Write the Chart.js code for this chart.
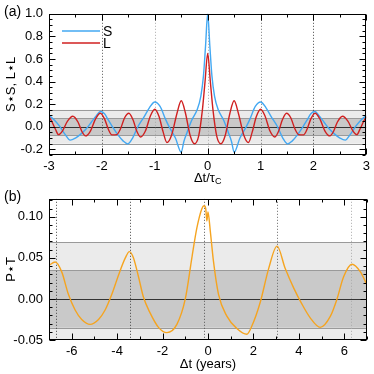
<!DOCTYPE html>
<html lang="en">
<head>
<meta charset="UTF-8">
<title>Correlation panels</title>
<script src="https://cdn.jsdelivr.net/npm/chart.js"></script>
<style>
  body { margin: 0; background: #fff; }
  .panel { position: absolute; left: 0; }
</style>
</head>
<body>
<div class="panel" style="top:0"><canvas id="chartA" width="374" height="185"></canvas></div>
<div class="panel" style="top:185px"><canvas id="chartB" width="374" height="189"></canvas></div>

<script>
// (a) auto-correlation of S and L vs lag in units of tau_c
const lagS = [-3.0, -2.9, -2.8, -2.7, -2.6, -2.5, -2.4, -2.3, -2.2, -2.1, -2.03, -1.95, -1.88, -1.8, -1.7, -1.6, -1.51,
              -1.42, -1.32, -1.2, -1.1, -1.0, -0.9, -0.8, -0.74, -0.61, -0.5, -0.45, -0.39, -0.3, -0.2, -0.13, -0.08, -0.04, 0,
              0.04, 0.08, 0.13, 0.2, 0.3, 0.39, 0.45, 0.5, 0.61, 0.74, 0.8, 0.9, 1.0, 1.1, 1.2, 1.32, 1.42,
              1.51, 1.6, 1.7, 1.8, 1.88, 1.95, 2.03, 2.1, 2.2, 2.3, 2.4, 2.5, 2.6, 2.7, 2.8, 2.9, 3.0];
const valS = [0.10, 0.06, 0.005, -0.065, -0.118, -0.10, -0.065, -0.02, 0.04, 0.10, 0.135, 0.115, 0.06, 0.0, -0.07, -0.125, -0.152,
              -0.10, 0.0, 0.09, 0.17, 0.219, 0.18, 0.07, 0.01, -0.10, -0.225, -0.13, -0.05, 0.06, 0.15, 0.27, 0.45, 0.72, 1.0,
              0.72, 0.45, 0.27, 0.15, 0.06, -0.05, -0.13, -0.225, -0.10, 0.01, 0.07, 0.18, 0.219, 0.17, 0.09, 0.0, -0.10,
              -0.152, -0.125, -0.07, 0.0, 0.06, 0.115, 0.135, 0.10, 0.04, -0.02, -0.065, -0.10, -0.118, -0.065, 0.005, 0.06, 0.10];

const lagL = [-3.0, -2.95, -2.88, -2.82, -2.75, -2.65, -2.55, -2.45, -2.38, -2.31, -2.22, -2.12, -2.03, -1.95, -1.88, -1.81,
              -1.72, -1.65, -1.57, -1.49, -1.41, -1.34, -1.27, -1.18, -1.08, -1.0, -0.92, -0.84, -0.77, -0.68, -0.58, -0.5,
              -0.42, -0.33, -0.25, -0.17, -0.1, -0.05, 0,
              0.05, 0.1, 0.17, 0.25, 0.33, 0.42, 0.5, 0.58, 0.68, 0.77, 0.84, 0.92, 1.0, 1.08, 1.18, 1.27, 1.34, 1.41,
              1.49, 1.57, 1.65, 1.72, 1.81, 1.88, 1.95, 2.03, 2.12, 2.22, 2.31, 2.38, 2.45, 2.55, 2.65, 2.75, 2.82, 2.88, 2.95, 3.0];
const valL = [0.09, 0.05, -0.02, -0.07, -0.04, 0.05, 0.093, 0.04, -0.04, -0.081, -0.04, 0.07, 0.12, 0.07, -0.02, -0.072,
              -0.07, -0.02, 0.08, 0.12, 0.06, -0.04, -0.09, -0.04, 0.10, 0.155, 0.09, -0.05, -0.14, -0.07, 0.12, 0.23,
              0.12, -0.08, -0.15, -0.08, 0.15, 0.40, 0.65,
              0.40, 0.15, -0.08, -0.15, -0.08, 0.12, 0.23, 0.12, -0.07, -0.14, -0.05, 0.09, 0.155, 0.10, -0.04, -0.09, -0.04, 0.06,
              0.12, 0.08, -0.02, -0.07, -0.072, -0.02, 0.07, 0.12, 0.07, -0.04, -0.081, -0.04, 0.04, 0.093, 0.05, -0.04, -0.07, -0.02, 0.05, 0.09];

// (b) cross-correlation P*T vs lag in years
const lagB = [-7.0, -6.73, -6.44, -6.15, -5.85, -5.56, -5.19, -4.82, -4.53, -4.23, -3.94, -3.64, -3.46, -3.28, -3.06, -2.84,
              -2.55, -2.18, -1.81, -1.37, -1.0, -0.7, -0.49, -0.27, -0.17, -0.1, -0.05, 0.0, 0.1, 0.24, 0.46, 0.83, 1.27,
              1.71, 1.93, 2.3, 2.67, 3.04, 3.4, 3.77, 4.13, 4.5, 4.94, 5.39, 5.68, 5.97, 6.34, 6.71, 7.0];
const valPT = [0.041, 0.045, 0.033, 0.006, -0.0135, -0.025, -0.031, -0.025, -0.0135, 0.006, 0.029, 0.050, 0.0577, 0.050, 0.027, 0.002,
               -0.017, -0.0346, -0.041, -0.031, 0.0, 0.052, 0.0865, 0.11, 0.1135, 0.110, 0.095, 0.106, 0.083, 0.046, 0.006, -0.021, -0.036,
               -0.043, -0.033, -0.004, 0.037, 0.0643, 0.037, 0.0135, -0.006, -0.023, -0.0346, -0.021, 0.0, 0.027, 0.0423, 0.033, 0.017];

// significance bands (outer, inner) and marked lags
const bandsA = [0.15, 0.075];
const bandsB = [0.069, 0.035];
const markA = [-2, -1, 0, 1, 2];
const markB = [-6.7, -3.45, -0.17, 3.05, 6.3];

// tick labels
const xTicksA = [-3, -2, -1, 0, 1, 2, 3];
const yTicksA = [-0.2, 0.0, 0.2, 0.4, 0.6, 0.8, 1.0];
const xTicksB = [-6, -4, -2, 0, 2, 4, 6];
const yTicksB = [-0.05, 0.00, 0.05, 0.10];

const FONT = "'Liberation Sans', Arial, sans-serif";

function pts(xs, ys) {
    return xs.map((x, i) => ({ x: x, y: ys[i] }));
}

function tickRange(min, max, step) {
    const out = [];
    const k0 = Math.ceil(min / step - 1e-9), k1 = Math.floor(max / step + 1e-9);
    for (let k = k0; k <= k1; k++) out.push(k * step);
    return out;
}

// bands, dotted markers, frame, inward ticks, titles
const decor = {
    id: 'decor',
    beforeDatasetsDraw(chart, args, o) {
        const { ctx, chartArea: a, scales: { x, y } } = chart;
        ctx.save();
        ctx.beginPath();
        ctx.rect(a.left, a.top, a.right - a.left, a.bottom - a.top);
        ctx.clip();
        const band = (h, fill) => {
            const y1 = y.getPixelForValue(h), y2 = y.getPixelForValue(-h);
            ctx.fillStyle = fill;
            ctx.fillRect(a.left, y1, a.right - a.left, y2 - y1);
            ctx.strokeStyle = '#9a9a9a';
            ctx.lineWidth = 1;
            ctx.beginPath();
            ctx.moveTo(a.left, Math.round(y1) + 0.5); ctx.lineTo(a.right, Math.round(y1) + 0.5);
            ctx.moveTo(a.left, Math.round(y2) + 0.5); ctx.lineTo(a.right, Math.round(y2) + 0.5);
            ctx.stroke();
        };
        band(o.bands[0], '#ebebeb');
        band(o.bands[1], '#c9c9c9');
        // zero line
        const y0 = Math.round(y.getPixelForValue(0)) + 0.5;
        ctx.strokeStyle = '#333';
        ctx.beginPath(); ctx.moveTo(a.left, y0); ctx.lineTo(a.right, y0); ctx.stroke();
        // dotted markers
        ctx.setLineDash([1, 2]);
        o.marks.forEach((m, i) => {
            const px = Math.round(x.getPixelForValue(m)) + 0.5;
            ctx.strokeStyle = o.markColors[i];
            ctx.beginPath(); ctx.moveTo(px, a.top); ctx.lineTo(px, a.bottom); ctx.stroke();
        });
        ctx.restore();
    },
    afterDraw(chart, args, o) {
        const { ctx, chartArea: a, scales: { x, y } } = chart;
        ctx.save();
        ctx.strokeStyle = '#000';
        ctx.lineWidth = 1;
        const L = Math.round(a.left) + 0.5, R = Math.round(a.right) - 0.5;
        const T = Math.round(a.top) + 0.5, B = Math.round(a.bottom) - 0.5;
        ctx.strokeRect(L, T, R - L, B - T);
        ctx.beginPath();
        tickRange(x.min, x.max, o.xMinor).forEach(v => {
            const px = Math.round(x.getPixelForValue(v)) + 0.5;
            const len = o.xMajor.some(m => Math.abs(m - v) < 1e-6) ? 6 : 3;
            ctx.moveTo(px, B); ctx.lineTo(px, B - len);
            ctx.moveTo(px, T); ctx.lineTo(px, T + len);
        });
        tickRange(y.min, y.max, o.yMinor).forEach(v => {
            const py = Math.round(y.getPixelForValue(v)) + 0.5;
            const len = o.yMajor.some(m => Math.abs(m - v) < 1e-6) ? 6 : 3;
            ctx.moveTo(L, py); ctx.lineTo(L + len, py);
            ctx.moveTo(R, py); ctx.lineTo(R - len, py);
        });
        ctx.stroke();

        ctx.fillStyle = '#000';
        // panel letter
        ctx.font = '14px ' + FONT;
        ctx.textAlign = 'left';
        ctx.textBaseline = 'middle';
        ctx.fillText(o.letter, 4, o.letterY);

        // y title
        ctx.save();
        ctx.translate(11, (a.top + a.bottom) / 2);
        ctx.rotate(-Math.PI / 2);
        ctx.textAlign = 'center';
        ctx.font = '13px ' + FONT;
        ctx.fillText(o.yTitle, 0, 0);
        ctx.restore();

        // x title, with optional subscript
        const cx = (a.left + a.right) / 2;
        ctx.font = '13px ' + FONT;
        const w1 = ctx.measureText(o.xTitle).width;
        ctx.font = '9px ' + FONT;
        const w2 = o.xSub ? ctx.measureText(o.xSub).width : 0;
        const x0 = cx - (w1 + w2) / 2;
        ctx.textAlign = 'left';
        ctx.font = '13px ' + FONT;
        ctx.fillText(o.xTitle, x0, o.xTitleY);
        if (o.xSub) {
            ctx.font = '9px ' + FONT;
            ctx.fillText(o.xSub, x0 + w1, o.xTitleY + 4);
        }

        // legend
        if (o.legend) {
            chart.data.datasets.forEach((ds, i) => {
                const ly = 31 + i * 12;
                ctx.strokeStyle = ds.borderColor;
                ctx.lineWidth = 1.4;
                ctx.beginPath(); ctx.moveTo(62, ly); ctx.lineTo(100, ly); ctx.stroke();
                ctx.font = '14px ' + FONT;
                ctx.fillText(ds.label, 103, ly + 1);
            });
        }
        ctx.restore();
    }
};

function axes(xmin, xmax, xt, ymin, ymax, yt, digits, xHeight) {
    return {
        x: {
            type: 'linear', min: xmin, max: xmax,
            grid: { display: false, drawTicks: false }, border: { display: false },
            afterBuildTicks: s => { s.ticks = xt.map(v => ({ value: v })); },
            afterFit: s => { s.height = xHeight; },
            ticks: { color: '#000', font: { family: FONT, size: 13 }, padding: 4, maxRotation: 0,
                     callback: v => String(v) }
        },
        y: {
            min: ymin, max: ymax,
            grid: { display: false, drawTicks: false }, border: { display: false },
            afterBuildTicks: s => { s.ticks = yt.map(v => ({ value: v })); },
            afterFit: s => { s.width = 49; },
            ticks: { color: '#000', font: { family: FONT, size: 13 }, padding: 6,
                     callback: v => v.toFixed(digits) }
        }
    };
}

const common = {
    responsive: false,
    animation: false,
    elements: { point: { radius: 0 }, line: { cubicInterpolationMode: 'monotone' } }
};

new Chart(document.getElementById('chartA'), {
    type: 'line',
    data: {
        datasets: [
            { label: 'S', data: pts(lagS, valS), borderColor: '#43a8f2', borderWidth: 1.4, order: 1 },
            { label: 'L', data: pts(lagL, valL), borderColor: '#d02020', borderWidth: 1.4, order: 0 }
        ]
    },
    options: Object.assign({}, common, {
        layout: { padding: { top: 7, right: 7, left: 0, bottom: 0 } },
        plugins: {
            legend: { display: false }, tooltip: { enabled: false },
            decor: {
                bands: bandsA, marks: markA,
                markColors: ['#555', '#aaa', '#aaa', '#777', '#444'],
                xMinor: 0.5, xMajor: xTicksA, yMinor: 0.05, yMajor: yTicksA,
                letter: '(a)', letterY: 12, yTitle: 'S\u22c6S, L\u22c6L',
                xTitle: '\u0394t/\u03c4', xSub: 'C', xTitleY: 178, legend: true
            }
        },
        scales: axes(-3, 3, xTicksA, -0.25, 1.0, yTicksA, 1, 30)
    }),
    plugins: [decor]
});

new Chart(document.getElementById('chartB'), {
    type: 'line',
    data: {
        datasets: [
            { label: 'P\u22c6T', data: pts(lagB, valPT), borderColor: '#f5a420', borderWidth: 1.4 }
        ]
    },
    options: Object.assign({}, common, {
        layout: { padding: { top: 6, right: 7, left: 0, bottom: 0 } },
        plugins: {
            legend: { display: false }, tooltip: { enabled: false },
            decor: {
                bands: bandsB, marks: markB,
                markColors: ['#444', '#444', '#555', '#666', '#aaa'],
                xMinor: 1, xMajor: xTicksB, yMinor: 0.01, yMajor: yTicksB,
                letter: '(b)', letterY: 12, yTitle: 'P\u22c6T',
                xTitle: '\u0394t (years)', xSub: '', xTitleY: 179, legend: false
            }
        },
        scales: axes(-7, 7, xTicksB, -0.05, 0.122, yTicksB, 2, 34)
    }),
    plugins: [decor]
});
</script>
</body>
</html>
